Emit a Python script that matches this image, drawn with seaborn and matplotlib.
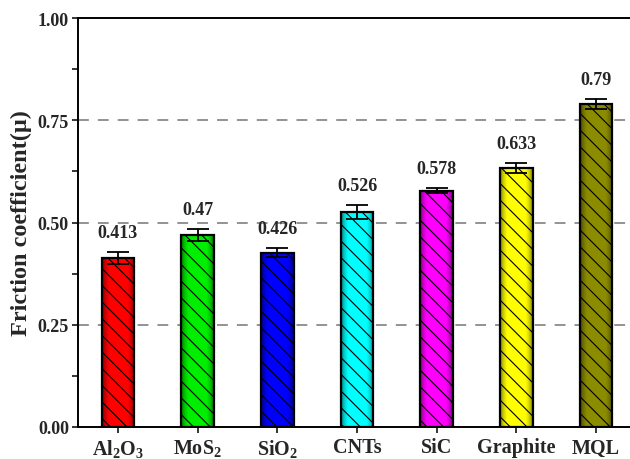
import numpy as np
import pandas as pd
import matplotlib
matplotlib.use("Agg")
import matplotlib.pyplot as plt
from matplotlib.ticker import MultipleLocator
import seaborn as sns

# Friction coefficient per lubricant condition
categories = ["Al$\\mathregular{_2}$O$\\mathregular{_3}$", "MoS$\\mathregular{_2}$",
              "SiO$\\mathregular{_2}$", "CNTs", "SiC", "Graphite", "MQL"]
friction = [0.413, 0.47, 0.426, 0.526, 0.578, 0.633, 0.79]
errors = [0.015, 0.015, 0.011, 0.017, 0.007, 0.013, 0.012]
value_labels = ["0.413", "0.47", "0.426", "0.526", "0.578", "0.633", "0.79"]
colors = ["#ff0000", "#00ee00", "#0000ff", "#00ffff", "#ff00ff", "#ffff00", "#8c8c00"]

sns.set_theme(style="ticks")
plt.rcParams["font.family"] = ["Liberation Serif", "DejaVu Serif"]
plt.rcParams["font.weight"] = "bold"
plt.rcParams["hatch.linewidth"] = 0.8

df = pd.DataFrame({"cat": categories, "mu": friction})

fig = plt.figure(figsize=(6.3, 4.6), dpi=100)
ax = fig.add_axes([78 / 630, 32 / 460, 558 / 630, 409 / 460])

sns.barplot(data=df, x="cat", y="mu", hue="cat", palette=colors, legend=False,
            width=0.41, ax=ax, zorder=3)

# Cylinder-like horizontal shading inside each bar: dark rims, bright body
t = np.linspace(0, 1, 200)
shade = 0.3 + 0.7 * np.clip(1.25 * np.sin(np.pi * t) ** 0.5, 0, 1)
for patch, col in zip(ax.patches, colors):
    x0, w, h = patch.get_x(), patch.get_width(), patch.get_height()
    rgb = np.array(matplotlib.colors.to_rgb(col))
    img = np.clip((shade[:, None] * rgb[None, :])[None, :, :], 0, 1)
    im = ax.imshow(img, extent=(x0, x0 + w, 0, h), aspect="auto", zorder=3,
                   interpolation="bilinear")
    im.set_clip_path(patch)
    patch.set_facecolor("none")
    patch.set_edgecolor("black")
    patch.set_linewidth(1.6)
    patch.set_hatch("\\\\")
    patch.set_zorder(4)

xs = np.arange(len(categories))
ax.errorbar(xs, friction, yerr=errors, fmt="none", ecolor="black", elinewidth=1.3,
            capsize=8, capthick=1.3, zorder=5)

for x, v, e, lab in zip(xs, friction, errors, value_labels):
    ax.annotate(lab, (x, v + e), xytext=(0, 8), textcoords="offset points",
                ha="center", va="bottom", fontsize=13, fontweight="bold")

for g in [0.25, 0.5, 0.75]:
    ax.axhline(g, color="#8a8a8a", lw=1.3, dashes=(6, 5), zorder=1)

ax.set_xlim(-0.5, 6.5)
ax.set_ylim(0, 1.0)
ax.yaxis.set_major_locator(MultipleLocator(0.25))
ax.yaxis.set_minor_locator(MultipleLocator(0.125))
ax.set_yticks([0, 0.25, 0.5, 0.75, 1.0])
ax.set_yticklabels(["0.00", "0.25", "0.50", "0.75", "1.00"])
ax.set_xlabel("")
ax.set_ylabel("Friction coefficient(μ)", fontsize=17.5, fontweight="bold", labelpad=4)
ax.tick_params(axis="y", which="both", direction="out", length=4.5, width=1.3,
               labelsize=13, pad=2)
ax.tick_params(axis="x", direction="out", length=4.5, width=1.3, labelsize=14.5, pad=3)
for lab in ax.get_xticklabels() + ax.get_yticklabels():
    lab.set_fontweight("bold")
for side in ["left", "bottom", "top"]:
    ax.spines[side].set_linewidth(1.4)
    ax.spines[side].set_color("black")
ax.spines["right"].set_visible(False)

fig.savefig("out.png", dpi=100)
